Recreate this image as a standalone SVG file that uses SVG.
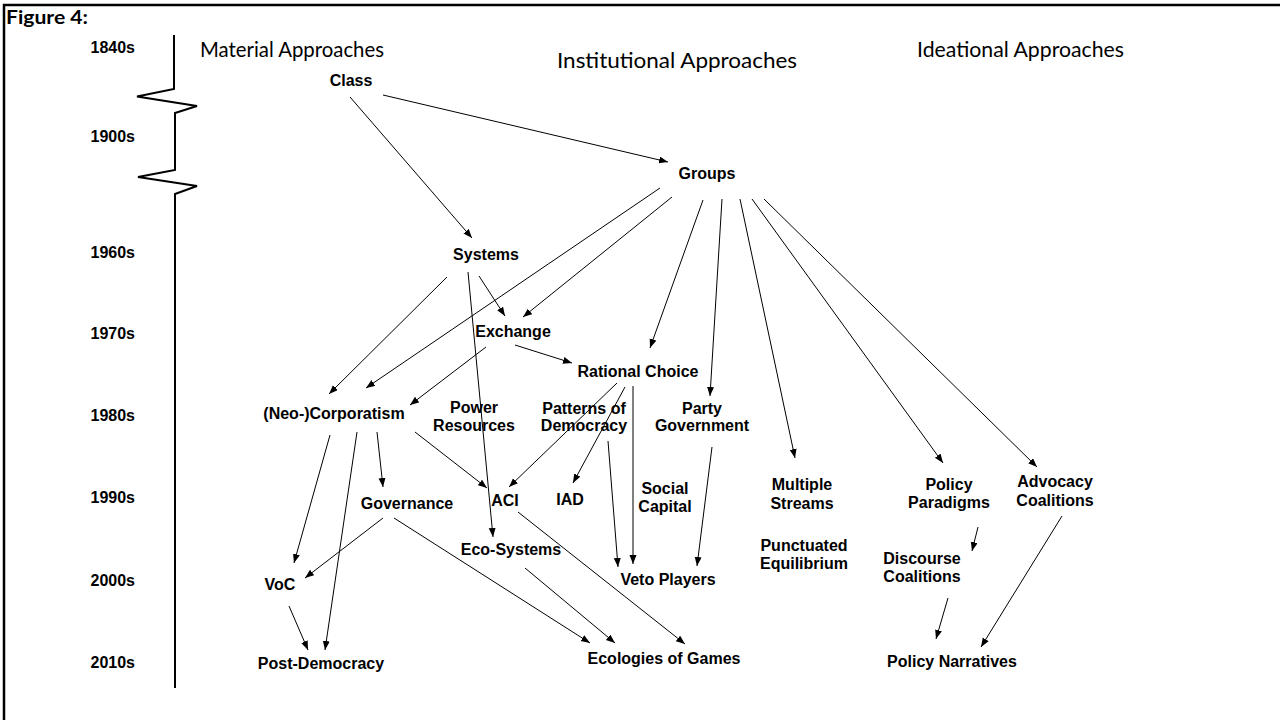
<svg xmlns="http://www.w3.org/2000/svg" width="1280" height="720" viewBox="0 0 1280 720">
<defs>
<style>
.n{font-family:"Liberation Sans",Arial,sans-serif;font-weight:bold;font-size:16px;text-anchor:middle;fill:#000}
.y{font-family:"Liberation Sans",Arial,sans-serif;font-weight:bold;font-size:16px;text-anchor:end;fill:#000}
.h{font-family:Lato,"Open Sans",sans-serif;font-size:21px;fill:#000}
.c line{stroke:#000;stroke-width:1;fill:none;marker-end:url(#ah)}
</style>
<marker id="ah" markerUnits="userSpaceOnUse" markerWidth="10" markerHeight="8" refX="9" refY="3.5" orient="auto">
<path d="M0,0 L9,3.5 L0,7 z" fill="#000"/>
</marker>
</defs>
<rect x="0" y="0" width="1280" height="720" fill="#fff"/>
<rect x="4" y="5" width="1400" height="800" fill="none" stroke="#000" stroke-width="2.5"/>
<g id="title"><text x="6" y="24" font-family="Lato,'Open Sans',sans-serif" font-weight="bold" font-size="19" textLength="82" lengthAdjust="spacingAndGlyphs">Figure 4:</text></g>
<g id="timeline">
<path d="M174,35 L174,89 L137,96.5 L197,106 L175,113 L175,170 L138,177 L197,186 L175,194 L175,688" fill="none" stroke="#000" stroke-width="2"/>
<text class="y" x="135" y="53">1840s</text>
<text class="y" x="135" y="142">1900s</text>
<text class="y" x="135" y="258">1960s</text>
<text class="y" x="135" y="339">1970s</text>
<text class="y" x="135" y="421">1980s</text>
<text class="y" x="135" y="503">1990s</text>
<text class="y" x="135" y="586">2000s</text>
<text class="y" x="135" y="668">2010s</text>
</g>
<g id="headings">
<text class="h" x="200" y="57" textLength="184" lengthAdjust="spacingAndGlyphs">Material Approaches</text>
<text class="h" x="557" y="68" textLength="240" lengthAdjust="spacingAndGlyphs">Institutional Approaches</text>
<text class="h" x="917" y="57" textLength="207" lengthAdjust="spacingAndGlyphs">Ideational Approaches</text>
</g>
<g class="c" id="connectors">
<line x1="350" y1="97" x2="472" y2="238"/>
<line x1="383" y1="95" x2="668" y2="162"/>
<line x1="660" y1="188" x2="366" y2="388"/>
<line x1="447" y1="277" x2="329" y2="394"/>
<line x1="672" y1="197" x2="523" y2="317"/>
<line x1="479" y1="276" x2="505" y2="316"/>
<line x1="468" y1="272" x2="493" y2="537"/>
<line x1="515" y1="345" x2="572" y2="363"/>
<line x1="486" y1="347" x2="410" y2="405"/>
<line x1="703" y1="200" x2="650" y2="348"/>
<line x1="722" y1="199" x2="710" y2="396"/>
<line x1="740" y1="199" x2="795" y2="458"/>
<line x1="752" y1="199" x2="943" y2="463"/>
<line x1="764" y1="199" x2="1037" y2="467"/>
<line x1="617" y1="383" x2="509" y2="487"/>
<line x1="625" y1="387" x2="573" y2="483"/>
<line x1="633" y1="386" x2="633" y2="564"/>
<line x1="608" y1="441" x2="618" y2="567"/>
<line x1="712" y1="447" x2="697" y2="566"/>
<line x1="415" y1="432" x2="487" y2="488"/>
<line x1="377" y1="432" x2="383" y2="487"/>
<line x1="330" y1="435" x2="294" y2="563"/>
<line x1="357" y1="432" x2="325" y2="650"/>
<line x1="383" y1="518" x2="305" y2="578"/>
<line x1="394" y1="518" x2="590" y2="643"/>
<line x1="518" y1="512" x2="685" y2="644"/>
<line x1="525" y1="568" x2="615" y2="643"/>
<line x1="289" y1="606" x2="308" y2="650"/>
<line x1="978" y1="527" x2="972" y2="551"/>
<line x1="948" y1="598" x2="936" y2="639"/>
<line x1="1062" y1="516" x2="981" y2="647"/>
</g>
<g id="n-class"><text class="n" x="351" y="86">Class</text></g>
<g id="n-groups"><text class="n" x="707" y="179">Groups</text></g>
<g id="n-systems"><text class="n" x="486" y="260">Systems</text></g>
<g id="n-exchange"><text class="n" x="513" y="337">Exchange</text></g>
<g id="n-rational"><text class="n" x="638" y="377">Rational Choice</text></g>
<g id="n-corporatism"><text class="n" x="334" y="419">(Neo-)Corporatism</text></g>
<g id="n-power"><text class="n" x="474" y="413">Power</text><text class="n" x="474" y="431">Resources</text></g>
<g id="n-patterns"><text class="n" x="584" y="414">Patterns of</text><text class="n" x="584" y="431">Democracy</text></g>
<g id="n-party"><text class="n" x="702" y="414">Party</text><text class="n" x="702" y="431">Government</text></g>
<g id="n-multiple"><text class="n" x="802" y="490">Multiple</text><text class="n" x="802" y="509">Streams</text></g>
<g id="n-punctuated"><text class="n" x="804" y="551">Punctuated</text><text class="n" x="804" y="569">Equilibrium</text></g>
<g id="n-veto"><text class="n" x="668" y="585">Veto Players</text></g>
<g id="n-social"><text class="n" x="665" y="494">Social</text><text class="n" x="665" y="512">Capital</text></g>
<g id="n-iad"><text class="n" x="570" y="505">IAD</text></g>
<g id="n-aci"><text class="n" x="505" y="506">ACI</text></g>
<g id="n-governance"><text class="n" x="407" y="509">Governance</text></g>
<g id="n-ecosystems"><text class="n" x="511" y="555">Eco-Systems</text></g>
<g id="n-voc"><text class="n" x="280" y="590">VoC</text></g>
<g id="n-postdemocracy"><text class="n" x="321" y="669">Post-Democracy</text></g>
<g id="n-ecologies"><text class="n" x="664" y="664">Ecologies of Games</text></g>
<g id="n-paradigms"><text class="n" x="949" y="490">Policy</text><text class="n" x="949" y="508">Paradigms</text></g>
<g id="n-advocacy"><text class="n" x="1055" y="487">Advocacy</text><text class="n" x="1055" y="506">Coalitions</text></g>
<g id="n-discourse"><text class="n" x="922" y="564">Discourse</text><text class="n" x="922" y="582">Coalitions</text></g>
<g id="n-narratives"><text class="n" x="952" y="667">Policy Narratives</text></g>
</svg>
